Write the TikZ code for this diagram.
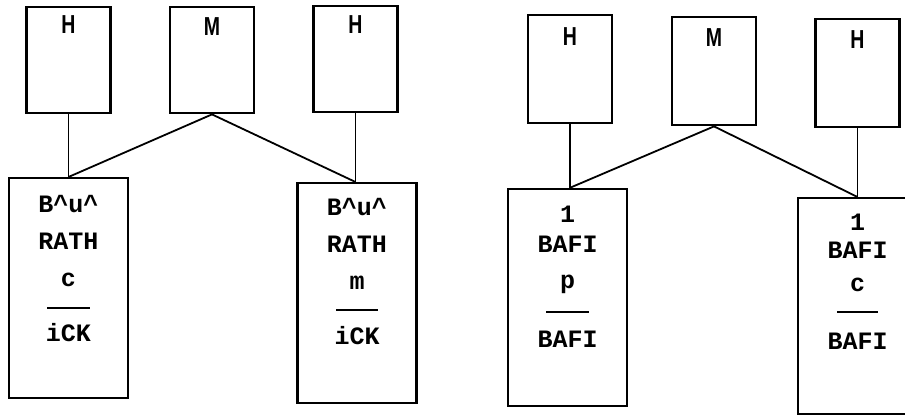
\documentclass[tikz,border=0pt]{standalone}
\usepackage{fontspec}
\newfontfamily\boxfont{Liberation Mono}
\newfontfamily\tagfont{Liberation Sans}
\newcommand{\tagtext}[1]{\scalebox{0.75}[1]{#1}}
\begin{document}
\begin{tikzpicture}[x=0.5pt, y=-0.5pt]

\tikzstyle{upbox}=[rectangle, draw, line width=1.2pt, anchor=north, minimum width=42pt, minimum height=53pt, inner sep=0pt]
\tikzstyle{lowbox}=[rectangle, draw, line width=1.2pt, anchor=north, minimum width=59.5pt, minimum height=110pt, inner sep=0pt]
\tikzstyle{tag}=[anchor=north, inner sep=0pt, font=\tagfont\bfseries\fontsize{13}{14}\selectfont]
\tikzstyle{txt}=[anchor=north, inner sep=0pt, align=center, font=\boxfont\bfseries\fontsize{12.5}{18.5}\selectfont]
\tikzstyle{wire}=[line width=0.9pt]

\useasboundingbox (0,0) rectangle (905,415);

\node (H1) [upbox] at (68.5,6) {};
\node (M1) [upbox] at (212,6) {};
\node (H2) [upbox] at (355.5,5) {};
\node (H3) [upbox, minimum height=54pt] at (570,14) {};
\node (M2) [upbox, minimum height=54pt] at (714,16) {};
\node (H4) [upbox, minimum height=54pt] at (857.5,18) {};

\node (H1t) [tag] at ([yshift=-4.5pt]H1.north) {\tagtext{H}};
\node (M1t) [tag] at ([yshift=-5.5pt]M1.north) {\tagtext{M}};
\node (H2t) [tag] at ([yshift=-5pt]H2.north) {\tagtext{H}};
\node (H3t) [tag] at ([yshift=-6.5pt]H3.north) {\tagtext{H}};
\node (M2t) [tag] at ([yshift=-6pt]M2.north) {\tagtext{M}};
\node (H4t) [tag] at ([yshift=-6pt]H4.north) {\tagtext{H}};

\node (B1) [lowbox] at (68.5,177) {};
\node (B2) [lowbox] at (357,182) {};
\node (B3) [lowbox, minimum height=108.5pt] at (567.5,188) {};
\node (B4) [lowbox, minimum height=108pt] at (857.5,197) {};

\node (B1t) [txt] at ([yshift=-9pt]B1.north) {B\textasciicircum u\textasciicircum\\RATH\\c\\[-4.5pt]\rule[3pt]{21.5pt}{0.8pt}\\[-5pt]iCK};
\node (B2t) [txt] at ([yshift=-8pt]B2.north) {B\textasciicircum u\textasciicircum\\RATH\\m\\[-5pt]\rule[3pt]{21pt}{0.8pt}\\[-4.5pt]iCK};
\node (B3t) [txt] at ([yshift=-9pt]B3.north) {1\\[-3.5pt]BAFI\\[-0.5pt]p\\[-3.5pt]\rule[3pt]{21.5pt}{0.8pt}\\[-4pt]BAFI};
\node (B4t) [txt] at ([yshift=-8.5pt]B4.north) {1\\[-4.5pt]BAFI\\[-2pt]c\\[-5pt]\rule[3pt]{20.5pt}{0.8pt}\\[-3pt]BAFI};

\draw [wire] (H1) -- (B1);
\draw [wire] (M1.south) -- (B1.north);
\draw [wire] (M1.south) -- (H2.south |- B2.north);
\draw [wire] (H2.south) -- (H2.south |- B2.north);

\draw [wire] (H3.south) -- (H3.south |- B3.north);
\draw [wire] (M2.south) -- ([xshift=1pt]B3.north);
\draw [wire] (M2.south) -- (B4.north);
\draw [wire] (H4) -- (B4);

\end{tikzpicture}
\end{document}
